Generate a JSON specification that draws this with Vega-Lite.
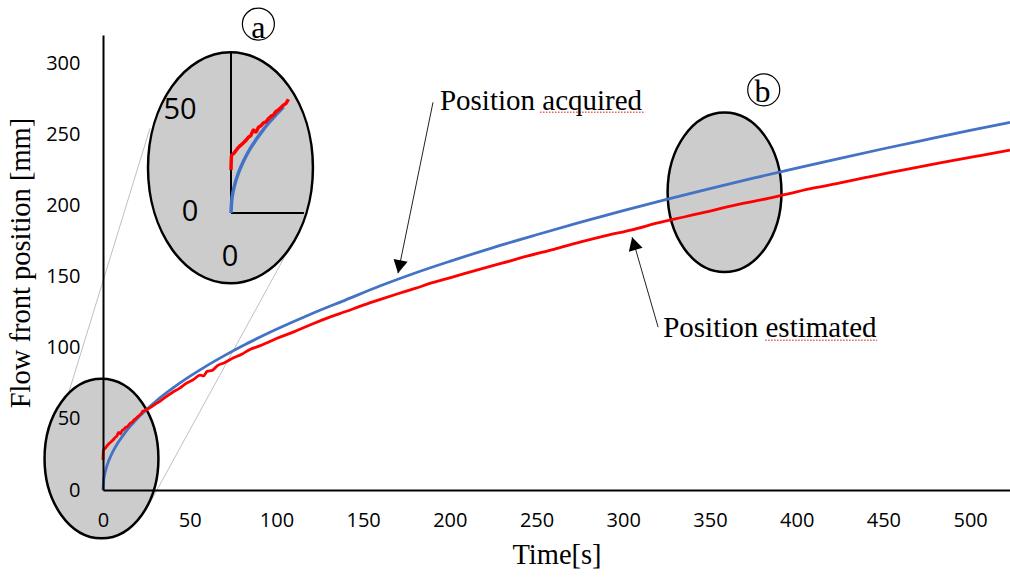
{
  "$schema": "https://vega.github.io/schema/vega-lite/v6.json",
  "width": 907,
  "height": 455,
  "autosize": {"type": "none"},
  "padding": {"left": 103, "top": 35, "right": 0, "bottom": 87},
  "background": "white",
  "config": {
    "view": {"stroke": null},
    "axis": {
      "domainColor": "black", "domainWidth": 2, "ticks": false, "tickSize": 0, "grid": false,
      "labelColor": "black", "labelFont": "Open Sans", "labelFontSize": 20,
      "titleColor": "black", "titleFont": "Liberation Serif", "titleFontSize": 28.5, "titleFontWeight": "normal"
    }
  },
  "datasets": {
    "flow": [
      {"series": "acquired", "t": 0, "v": 0},
      {"series": "acquired", "t": 0.3, "v": 6.2},
      {"series": "acquired", "t": 0.7, "v": 9.5},
      {"series": "acquired", "t": 1, "v": 11.3},
      {"series": "acquired", "t": 1.5, "v": 13.8},
      {"series": "acquired", "t": 2, "v": 16.0},
      {"series": "acquired", "t": 3, "v": 19.6},
      {"series": "acquired", "t": 4, "v": 22.6},
      {"series": "acquired", "t": 5, "v": 25.3},
      {"series": "acquired", "t": 6, "v": 27.7},
      {"series": "acquired", "t": 8, "v": 32.0},
      {"series": "acquired", "t": 10, "v": 35.7},
      {"series": "acquired", "t": 12, "v": 39.1},
      {"series": "acquired", "t": 15, "v": 43.8},
      {"series": "acquired", "t": 18, "v": 47.9},
      {"series": "acquired", "t": 21, "v": 51.8},
      {"series": "acquired", "t": 25, "v": 56.5},
      {"series": "acquired", "t": 30, "v": 61.9},
      {"series": "acquired", "t": 35, "v": 66.9},
      {"series": "acquired", "t": 40, "v": 71.5},
      {"series": "acquired", "t": 50, "v": 79.9},
      {"series": "acquired", "t": 60, "v": 87.5},
      {"series": "acquired", "t": 70, "v": 94.5},
      {"series": "acquired", "t": 80, "v": 101.1},
      {"series": "acquired", "t": 90, "v": 107.2},
      {"series": "acquired", "t": 100, "v": 113.0},
      {"series": "acquired", "t": 120, "v": 123.8},
      {"series": "acquired", "t": 140, "v": 133.7},
      {"series": "acquired", "t": 160, "v": 143.6},
      {"series": "acquired", "t": 180, "v": 152.6},
      {"series": "acquired", "t": 200, "v": 160.8},
      {"series": "acquired", "t": 225, "v": 170.5},
      {"series": "acquired", "t": 250, "v": 179.5},
      {"series": "acquired", "t": 275, "v": 188.2},
      {"series": "acquired", "t": 300, "v": 196.5},
      {"series": "acquired", "t": 325, "v": 204.4},
      {"series": "acquired", "t": 350, "v": 212.0},
      {"series": "acquired", "t": 375, "v": 219.3},
      {"series": "acquired", "t": 400, "v": 226.4},
      {"series": "acquired", "t": 425, "v": 233.3},
      {"series": "acquired", "t": 450, "v": 240.0},
      {"series": "acquired", "t": 475, "v": 246.5},
      {"series": "acquired", "t": 500, "v": 252.9},
      {"series": "acquired", "t": 523, "v": 258.6},
      {"series": "estimated", "t": 0, "v": 21},
      {"series": "estimated", "t": 0.2, "v": 28},
      {"series": "estimated", "t": 1, "v": 29},
      {"series": "estimated", "t": 2, "v": 30.5},
      {"series": "estimated", "t": 3, "v": 32},
      {"series": "estimated", "t": 4, "v": 33.2},
      {"series": "estimated", "t": 5, "v": 34.3},
      {"series": "estimated", "t": 6, "v": 35.5},
      {"series": "estimated", "t": 7, "v": 37},
      {"series": "estimated", "t": 8, "v": 38},
      {"series": "estimated", "t": 9, "v": 40.5},
      {"series": "estimated", "t": 10, "v": 39.5},
      {"series": "estimated", "t": 11, "v": 41.8},
      {"series": "estimated", "t": 12, "v": 42.6},
      {"series": "estimated", "t": 13, "v": 44},
      {"series": "estimated", "t": 14, "v": 44.5},
      {"series": "estimated", "t": 15, "v": 46},
      {"series": "estimated", "t": 16, "v": 47.2},
      {"series": "estimated", "t": 17, "v": 47.8},
      {"series": "estimated", "t": 18, "v": 49.5},
      {"series": "estimated", "t": 19, "v": 50.3},
      {"series": "estimated", "t": 20, "v": 51.5},
      {"series": "estimated", "t": 21, "v": 52.6},
      {"series": "estimated", "t": 22, "v": 53.5},
      {"series": "estimated", "t": 23, "v": 55.5},
      {"series": "estimated", "t": 24, "v": 55.8},
      {"series": "estimated", "t": 26, "v": 57.2},
      {"series": "estimated", "t": 28, "v": 58.5},
      {"series": "estimated", "t": 30, "v": 60.2},
      {"series": "estimated", "t": 33, "v": 62.5},
      {"series": "estimated", "t": 36, "v": 65.3},
      {"series": "estimated", "t": 40, "v": 68.6},
      {"series": "estimated", "t": 44, "v": 71.5},
      {"series": "estimated", "t": 48, "v": 75.0},
      {"series": "estimated", "t": 52, "v": 77.5},
      {"series": "estimated", "t": 56, "v": 80.8},
      {"series": "estimated", "t": 58, "v": 80.2},
      {"series": "estimated", "t": 60, "v": 83.4},
      {"series": "estimated", "t": 63, "v": 84.1},
      {"series": "estimated", "t": 66, "v": 87.5},
      {"series": "estimated", "t": 70, "v": 89.5},
      {"series": "estimated", "t": 75, "v": 92.8},
      {"series": "estimated", "t": 80, "v": 95.5},
      {"series": "estimated", "t": 85, "v": 99.0},
      {"series": "estimated", "t": 90, "v": 101.2},
      {"series": "estimated", "t": 95, "v": 103.8},
      {"series": "estimated", "t": 100, "v": 106.5},
      {"series": "estimated", "t": 110, "v": 111.2},
      {"series": "estimated", "t": 120, "v": 116.4},
      {"series": "estimated", "t": 130, "v": 121.2},
      {"series": "estimated", "t": 140, "v": 125.5},
      {"series": "estimated", "t": 150, "v": 130.0},
      {"series": "estimated", "t": 160, "v": 134.1},
      {"series": "estimated", "t": 170, "v": 138.0},
      {"series": "estimated", "t": 180, "v": 141.8},
      {"series": "estimated", "t": 190, "v": 145.8},
      {"series": "estimated", "t": 200, "v": 149.2},
      {"series": "estimated", "t": 215, "v": 154.5},
      {"series": "estimated", "t": 230, "v": 159.5},
      {"series": "estimated", "t": 245, "v": 164.6},
      {"series": "estimated", "t": 260, "v": 169.3},
      {"series": "estimated", "t": 275, "v": 174.3},
      {"series": "estimated", "t": 290, "v": 178.9},
      {"series": "estimated", "t": 305, "v": 183.0},
      {"series": "estimated", "t": 320, "v": 187.8},
      {"series": "estimated", "t": 335, "v": 192.0},
      {"series": "estimated", "t": 350, "v": 196.2},
      {"series": "estimated", "t": 365, "v": 200.5},
      {"series": "estimated", "t": 380, "v": 204.2},
      {"series": "estimated", "t": 395, "v": 208.3},
      {"series": "estimated", "t": 410, "v": 212.4},
      {"series": "estimated", "t": 425, "v": 216.0},
      {"series": "estimated", "t": 440, "v": 219.8},
      {"series": "estimated", "t": 455, "v": 223.5},
      {"series": "estimated", "t": 470, "v": 227.0},
      {"series": "estimated", "t": 485, "v": 230.6},
      {"series": "estimated", "t": 500, "v": 234.0},
      {"series": "estimated", "t": 512, "v": 236.6},
      {"series": "estimated", "t": 523, "v": 239.0}
    ]
  },
  "layer": [
    {
      "layer": [
        {
          "data": {"values": [
            {"t": 27.1, "v": 254.4, "t2": -20.2, "v2": 66.8},
            {"t": 108.4, "v": 172.2, "t2": 24.8, "v2": -14.1}
          ]},
          "mark": {"type": "rule", "color": "#c0c0c0", "strokeWidth": 1},
          "encoding": {
            "x": {"field": "t", "type": "quantitative", "scale": {"domain": [0, 523], "nice": false, "zero": false},
                  "axis": {"values": [0, 50, 100, 150, 200, 250, 300, 350, 400, 450, 500], "labelPadding": 20, "labelFlush": false, "titlePadding": 10, "title": "Time[s]", "zindex": 2}},
            "y": {"field": "v", "type": "quantitative", "scale": {"domain": [0, 320], "nice": false, "zero": false},
                  "axis": {"values": [0, 50, 100, 150, 200, 250, 300], "labelPadding": 23, "titlePadding": 10, "title": "Flow front position [mm]", "zindex": 2}},
            "x2": {"field": "t2"},
            "y2": {"field": "v2"}
          }
        },
        {
          "data": {"values": [{"t": -0.87, "v": 22.1}, {"t": 358.4, "v": 209.4}]},
          "mark": {"type": "point", "shape": "M0.714,0 C0.714,0.5523 0.3943,1 0,1 C-0.3943,1 -0.714,0.5523 -0.714,0 C-0.714,-0.5523 -0.3943,-1 0,-1 C0.3943,-1 0.714,-0.5523 0.714,0 Z", "size": 25440, "filled": true, "fill": "#cccccc", "stroke": "black", "strokeWidth": 2.5, "opacity": 1},
          "encoding": {"x": {"field": "t", "type": "quantitative"}, "y": {"field": "v", "type": "quantitative"}}
        },
        {
          "data": {"values": [{"t": 73.5, "v": 226.6}]},
          "mark": {"type": "point", "shape": "M0.714,0 C0.714,0.5523 0.3943,1 0,1 C-0.3943,1 -0.714,0.5523 -0.714,0 C-0.714,-0.5523 -0.3943,-1 0,-1 C0.3943,-1 0.714,-0.5523 0.714,0 Z", "size": 53361, "filled": true, "fill": "#cccccc", "stroke": "black", "strokeWidth": 2.5, "opacity": 1},
          "encoding": {"x": {"field": "t", "type": "quantitative"}, "y": {"field": "v", "type": "quantitative"}}
        },
        {
          "data": {"name": "flow"},
          "mark": {"type": "line", "strokeWidth": 2.8, "interpolate": "monotone", "zindex": 3},
          "encoding": {
            "x": {"field": "t", "type": "quantitative"},
            "y": {"field": "v", "type": "quantitative"},
            "color": {"field": "series", "type": "nominal", "scale": {"domain": ["acquired", "estimated"], "range": ["#4472c4", "#ff0000"]}, "legend": null}
          }
        },
        {
          "data": {"values": [
            {"t": 190.3, "v": 272.7, "t2": 170.1, "v2": 152.5},
            {"t": 320.1, "v": 114.5, "t2": 305.1, "v2": 177.8}
          ]},
          "mark": {"type": "rule", "color": "#222222", "strokeWidth": 1},
          "encoding": {"x": {"field": "t", "type": "quantitative"}, "y": {"field": "v", "type": "quantitative"}, "x2": {"field": "t2"}, "y2": {"field": "v2"}}
        },
        {
          "data": {"values": [{"t": 170.1, "v": 152.5}]},
          "mark": {"type": "point", "shape": "M0,0 L0.55,1 L-0.55,1 Z", "size": 676, "filled": true, "color": "black", "angle": 191.6, "opacity": 1},
          "encoding": {"x": {"field": "t", "type": "quantitative"}, "y": {"field": "v", "type": "quantitative"}}
        },
        {
          "data": {"values": [{"t": 305.1, "v": 177.8}]},
          "mark": {"type": "point", "shape": "M0,0 L0.55,1 L-0.55,1 Z", "size": 676, "filled": true, "color": "black", "angle": 343.9, "opacity": 1},
          "encoding": {"x": {"field": "t", "type": "quantitative"}, "y": {"field": "v", "type": "quantitative"}}
        },
        {
          "data": {"values": [
            {"t": 252.0, "v": 265.6, "t2": 312.6},
            {"t": 381.8, "v": 105.4, "t2": 446.4}
          ]},
          "mark": {"type": "rule", "color": "#e06060", "strokeWidth": 1.5, "strokeDash": [1.5, 1.5]},
          "encoding": {"x": {"field": "t", "type": "quantitative"}, "y": {"field": "v", "type": "quantitative"}, "x2": {"field": "t2"}}
        },
        {
          "data": {"values": [
            {"t": 194.3, "v": 267.4, "label": "Position acquired"},
            {"t": 323.0, "v": 107.5, "label": "Position estimated"}
          ]},
          "mark": {"type": "text", "font": "Liberation Serif", "fontSize": 29, "align": "left", "baseline": "alphabetic", "color": "black"},
          "encoding": {"x": {"field": "t", "type": "quantitative"}, "y": {"field": "v", "type": "quantitative"}, "text": {"field": "label"}}
        },
        {
          "data": {"values": [{"t": 89.6, "v": 327.7}, {"t": 381.0, "v": 281.4}]},
          "mark": {"type": "point", "shape": "circle", "size": 1024, "filled": false, "stroke": "black", "strokeWidth": 1.2, "opacity": 1},
          "encoding": {"x": {"field": "t", "type": "quantitative"}, "y": {"field": "v", "type": "quantitative"}}
        },
        {
          "data": {"values": [{"t": 89.6, "v": 318.0, "label": "a"}, {"t": 380.3, "v": 273.0, "label": "b"}]},
          "mark": {"type": "text", "font": "Liberation Serif", "fontSize": 32, "align": "center", "baseline": "alphabetic", "color": "black"},
          "encoding": {"x": {"field": "t", "type": "quantitative"}, "y": {"field": "v", "type": "quantitative"}, "text": {"field": "label"}}
        }
      ]
    },
    {
      "layer": [
        {
          "data": {"values": [
            {"t": 0, "v": 0, "t2": 0, "v2": 78.6},
            {"t": 0, "v": 0, "t2": 29.2, "v2": 0}
          ]},
          "mark": {"type": "rule", "color": "black", "strokeWidth": 2},
          "encoding": {
            "x": {"field": "t", "type": "quantitative", "scale": {"domain": [-51.26, 311.98], "nice": false, "zero": false}, "axis": null},
            "y": {"field": "v", "type": "quantitative", "scale": {"domain": [-135.19, 86.87], "nice": false, "zero": false}, "axis": null},
            "x2": {"field": "t2"},
            "y2": {"field": "v2"}
          }
        },
        {
          "data": {"name": "flow"},
          "transform": [{"filter": "datum.t <= 23.5"}],
          "mark": {"type": "line", "strokeWidth": 3.5, "interpolate": "monotone"},
          "encoding": {
            "x": {"field": "t", "type": "quantitative", "axis": null},
            "y": {"field": "v", "type": "quantitative", "axis": null},
            "color": {"field": "series", "type": "nominal", "scale": {"domain": ["acquired", "estimated"], "range": ["#4472c4", "#ff0000"]}, "legend": null}
          }
        },
        {
          "data": {"values": [
            {"t": -20.4, "v": 50.3, "label": "50"},
            {"t": -16.4, "v": 0.5, "label": "0"},
            {"t": -0.4, "v": -21.5, "label": "0"}
          ]},
          "mark": {"type": "text", "font": "Open Sans", "fontSize": 29, "align": "center", "baseline": "middle", "color": "black"},
          "encoding": {"x": {"field": "t", "type": "quantitative", "axis": null}, "y": {"field": "v", "type": "quantitative", "axis": null}, "text": {"field": "label"}}
        }
      ]
    }
  ],
  "resolve": {"scale": {"x": "independent", "y": "independent", "color": "independent"}}
}
